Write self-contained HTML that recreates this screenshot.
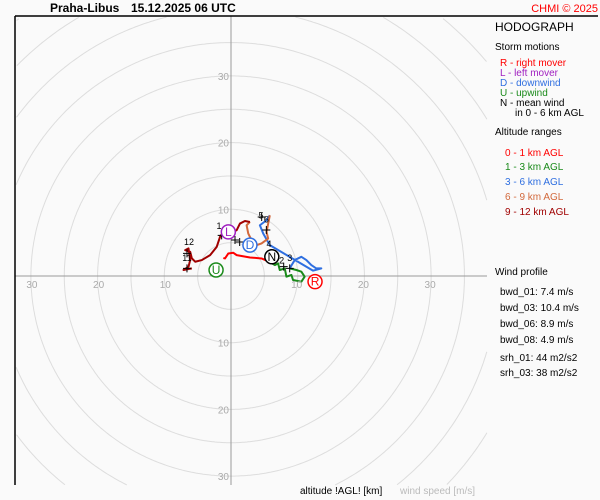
<!DOCTYPE html>
<html><head><meta charset="utf-8"><style>
html,body{margin:0;padding:0;width:600px;height:500px;overflow:hidden;background:#fafafa;}
svg{display:block;overflow:hidden;font-family:"Liberation Sans",sans-serif;}
</style></head><body>
<svg id="c" width="600" height="500" viewBox="0 0 600 500">
<rect x="0" y="0" width="600" height="500" fill="#fafafa"/>
<g id="grid"></g>
<g id="series"></g>
<g id="marks"></g>
<line x1="15" y1="16" x2="598" y2="16" stroke="#000" stroke-width="1.5"/>
<line x1="15" y1="16" x2="15" y2="485" stroke="#000" stroke-width="1.5"/>
<text x="50" y="12" font-size="12" font-weight="bold">Praha-Libus</text>
<text x="131" y="12" font-size="12" font-weight="bold">15.12.2025 06 UTC</text>
<text x="598" y="12" font-size="11" fill="#f00" text-anchor="end">CHMI © 2025</text>
<g font-size="10">
<text x="495" y="31" font-size="12">HODOGRAPH</text>
<text x="495" y="50">Storm motions</text>
<text x="500" y="66" fill="#f00">R - right mover</text>
<text x="500" y="76" fill="#a020c0">L - left mover</text>
<text x="500" y="86" fill="#2f6fe0">D - downwind</text>
<text x="500" y="96" fill="#1a8a1a">U - upwind</text>
<text x="500" y="106">N - mean wind</text>
<text x="515" y="116">in 0 - 6 km AGL</text>
<text x="495" y="135">Altitude ranges</text>
<text x="505" y="156" fill="#f00">0 - 1 km AGL</text>
<text x="505" y="170" fill="#1a8a1a">1 - 3 km AGL</text>
<text x="505" y="185" fill="#2f6fe0">3 - 6 km AGL</text>
<text x="505" y="200" fill="#d2693c">6 - 9 km AGL</text>
<text x="505" y="215" fill="#a00000">9 - 12 km AGL</text>
<text x="495" y="275">Wind profile</text>
<text x="500" y="295">bwd_01: 7.4 m/s</text>
<text x="500" y="311">bwd_03: 10.4 m/s</text>
<text x="500" y="327">bwd_06: 8.9 m/s</text>
<text x="500" y="343">bwd_08: 4.9 m/s</text>
<text x="500" y="361">srh_01: 44 m2/s2</text>
<text x="500" y="376">srh_03: 38 m2/s2</text>
</g>
<text x="300" y="494" font-size="10">altitude !AGL! [km]</text>
<text x="400" y="494" font-size="10" fill="#bbb">wind speed [m/s]</text>
</svg>
<script>
const ringValues=[5,10,15,20,25,30,35,40,45,50,55,60,65];
const tickValues=[10,20,30];
const seg01U=[-1.15,-0.9,-0.4,0.35,0.85,2.84,4.58,5.72];
const seg01V=[2.69,2.63,3.38,3.48,3.13,2.78,2.63,2.14];
const seg13U=[5.72,6.57,7.06,7.31,8.06,8.31,9.06,9.3,10.55,11.04,10.55,9.8,8.8];
const seg13V=[2.14,1.64,1.89,0.9,1.14,-0.1,0.15,-0.6,-0.85,-0.1,0.64,0.9,1.14];
const seg36U=[8.8,9.55,10.55,11.3,12.04,12.79,13.54,12.29,5.82,4.83,4.33,5.33,5.82];
const seg36V=[1.14,2.39,2.88,2.39,1.64,1.14,1.14,0.8,4.63,6.37,7.61,8.36,9.1];
const seg69U=[5.82,5.33,5.57,4.58,3.84,3.09,2.59,2.34,2.84];
const seg69V=[9.1,6.61,5.62,4.88,4.63,5.37,6.37,7.61,8.1];
const seg912U=[2.84,2.09,1.34,0.85,-0.4,-1.15,-1.64,-2.14,-3.13,-4.37,-5.37,-5.87,-6.12,-6.87,-6.37,-6.12,-6.37,-7.12,-5.87];
const seg912V=[8.1,8.25,7.86,6.87,6.37,6.61,5.87,4.37,3.13,2.39,2.14,2.64,3.63,3.88,4.13,2.39,1.39,0.9,1.14];
const stormLabels=["R","L","D","U","N"];
const stormU=[12.6,-0.4,2.84,-2.24,6.12];
const stormV=[-0.85,6.61,4.63,0.9,2.88];
const heightLabels=["1","2","3","4","5","6","11","12"];
const heightU=[-1.8,7.6,8.8,5.7,4.5,5.3,-6.6,-6.3];
const heightV=[7.5,2.3,2.7,4.8,9.1,8.5,2.7,5.1];
const crossU=[-1.4,0.6,1.3,4.6,5.3,7.9,8.8,-6.6,-6.6];
const crossV=[6.1,5.4,5.1,8.85,6.9,1.4,1.14,3.4,1.14];
const CX=231,CY=276,S=6.67;
const X0=15,X1=487,Y0=16,Y1=485;
const xs=u=>CX+u*S, ys=v=>CY-v*S;
const NS="http://www.w3.org/2000/svg";
function mk(tag,attrs,parent){const e=document.createElementNS(NS,tag);for(const k in attrs)e.setAttribute(k,attrs[k]);parent.appendChild(e);return e;}
const grid=document.getElementById('grid');
ringValues.forEach(r=>{
 const R=r*S;
 let runs=[],cur=[];
 for(let d=0;d<=720;d++){
  const t=d/2*Math.PI/180;
  const x=CX+R*Math.cos(t),y=CY-R*Math.sin(t);
  if(x>=X0+1&&x<=X1&&y>=Y0+1&&y<=Y1){cur.push(x.toFixed(1)+','+y.toFixed(1));}
  else{if(cur.length>1)runs.push(cur);cur=[];}
 }
 if(cur.length>1)runs.push(cur);
 runs.forEach(run=>{
  const c=mk('polyline',{points:run.join(' '),fill:'none',stroke:'#ddd','stroke-width':1},grid);
  
  
 });
});
let a=mk('line',{x1:X0,y1:CY,x2:X1,y2:CY,stroke:'#999'},grid);


a=mk('line',{x1:CX,y1:Y0,x2:CX,y2:Y1,stroke:'#999'},grid);


const svg=document.getElementById('c');
tickValues.forEach(t=>{
 [[xs(-t)+1,CY+12,'middle'],[xs(t)-1,CY+12,'middle'],[CX-2,ys(t)+4,'end'],[CX-2,ys(-t)+4,'end']].forEach(p=>{
  const e=mk('text',{x:p[0],y:p[1],'text-anchor':p[2],'font-size':10,fill:'#aaa'},svg);
  e.textContent=t;
  
  
 });
});
const series=document.getElementById('series');
[[seg01U,seg01V,'#f00','segment-0-1km'],[seg13U,seg13V,'#1a8a1a','segment-1-3km'],[seg36U,seg36V,'#2f6fe0','segment-3-6km'],[seg69U,seg69V,'#d2693c','segment-6-9km'],[seg912U,seg912V,'#a00000','segment-9-12km']].forEach(s=>{
 const pts=s[0].map((u,i)=>xs(u)+','+ys(s[1][i])).join(' ');
 const p=mk('polyline',{points:pts,fill:'none',stroke:s[2],'stroke-width':2,'stroke-linejoin':'round'},series);
 
 
});
const marks=document.getElementById('marks');
crossU.forEach((u,i)=>{
 const x=xs(u),y=ys(crossV[i]);
 const p=mk('path',{d:`M${x-4},${y}H${x+4}M${x},${y-4}V${y+4}`,stroke:'#000','stroke-width':1},marks);
 
 
});
heightLabels.forEach((t,i)=>{
 const e=mk('text',{x:xs(heightU[i]),y:ys(heightV[i])+3,'text-anchor':'middle','font-size':9,fill:'#000'},marks);
 e.textContent=t;
 
 
});
const sCol={R:'#f00',L:'#a020c0',D:'#2f6fe0',U:'#1a8a1a',N:'#000'};
stormLabels.forEach((t,i)=>{
 const x=xs(stormU[i]),y=ys(stormV[i]);
 const c=mk('circle',{cx:x,cy:y,r:7,fill:'#fff',stroke:sCol[t],'stroke-width':1.5},marks);
 
 
 const e=mk('text',{x:x,y:y+4,'text-anchor':'middle','font-size':12,fill:sCol[t]},marks);
 e.textContent=t;
 
 
});
</script>
</body></html>
